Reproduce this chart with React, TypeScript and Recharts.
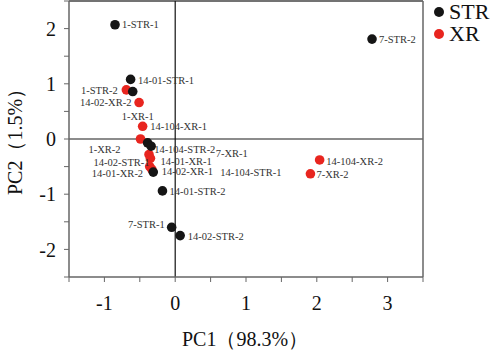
import {
  Label,
  ReferenceLine,
  Scatter,
  ScatterChart,
  XAxis,
  YAxis,
} from "recharts";

const strNames = [
  "1-STR-1", "7-STR-2", "14-01-STR-1", "1-STR-2", "14-02-STR-1",
  "14-104-STR-2", "14-104-STR-1", "14-01-STR-2", "7-STR-1", "14-02-STR-2",
];
const strPC1 = [-0.85, 2.78, -0.63, -0.6, -0.39, -0.34, -0.31, -0.18, -0.05, 0.07];
const strPC2 = [2.07, 1.81, 1.08, 0.86, -0.07, -0.13, -0.6, -0.94, -1.6, -1.75];

const xrNames = [
  "1-XR-1", "14-02-XR-2", "14-104-XR-1", "1-XR-2", "7-XR-1",
  "14-01-XR-1", "14-02-XR-1", "14-01-XR-2", "14-104-XR-2", "7-XR-2",
];
const xrPC1 = [-0.69, -0.51, -0.46, -0.49, -0.37, -0.35, -0.36, -0.33, 2.04, 1.91];
const xrPC2 = [0.89, 0.66, 0.23, 0.0, -0.28, -0.35, -0.5, -0.55, -0.38, -0.63];

const xTicks = [-1.5, -1, -0.5, 0, 0.5, 1, 1.5, 2, 2.5, 3, 3.5];
const yTicks = [-2.5, -2, -1.5, -1, -0.5, 0, 0.5, 1, 1.5, 2, 2.5];

const strData = strNames.map((name, i) => ({ name, x: strPC1[i], y: strPC2[i] }));
const xrData = xrNames.map((name, i) => ({ name, x: xrPC1[i], y: xrPC2[i] }));

// where each point's name sits relative to its marker (px)
const labelOffsets: Record<string, [number, number, "start" | "end"]> = {
  "1-STR-1": [7, 0, "start"],
  "7-STR-2": [7, 0, "start"],
  "14-01-STR-1": [7.5, 1, "start"],
  "1-STR-2": [-15, -1, "end"],
  "14-02-STR-1": [2, 19, "end"],
  "14-104-STR-2": [3, 3, "start"],
  "14-104-STR-1": [67, 0.5, "start"],
  "14-01-STR-2": [7, 0.7, "start"],
  "7-STR-1": [-7, -3, "end"],
  "14-02-STR-2": [7.5, 0.7, "start"],
  "1-XR-1": [-4.6, 26, "start"],
  "14-02-XR-2": [-7.7, -0.7, "end"],
  "14-104-XR-1": [7.7, 0.5, "start"],
  "1-XR-2": [-20, 10.7, "end"],
  "7-XR-1": [66.7, -1.6, "start"],
  "14-01-XR-1": [10, 3.4, "start"],
  "14-02-XR-1": [12, 4.6, "start"],
  "14-01-XR-2": [-8.7, 4, "end"],
  "14-104-XR-2": [6.7, 1, "start"],
  "7-XR-2": [6, 1, "start"],
};

const SERIF = "'Liberation Serif'";
const BLACK = "#151515";
const RED = "#e8251f";

function makeShape(color: string) {
  return (props: any) => {
    const { cx, cy, payload } = props;
    const off = labelOffsets[payload.name] ?? [7, 0, "start"];
    return (
      <g>
        <circle cx={cx} cy={cy} r={4.8} fill={color} />
        <text
          x={cx + off[0]}
          y={cy + off[1]}
          dy="0.35em"
          textAnchor={off[2]}
          style={{ fontFamily: SERIF }}
          fontSize={10.5}
          fill="#333"
        >
          {payload.name}
        </text>
      </g>
    );
  };
}

const fmt = (v: number) => (Number.isInteger(v) ? String(v) : "");

function LegendBox() {
  return (
    <div
      style={{
        position: "absolute",
        left: 434,
        top: 1,
        fontFamily: SERIF,
        fontSize: 22,
        lineHeight: "22px",
        color: "#111",
      }}
    >
      <div style={{ display: "flex", alignItems: "center" }}>
        <span style={{ width: 10, height: 10, borderRadius: 5, background: BLACK, marginRight: 5 }} />
        STR
      </div>
      <div style={{ display: "flex", alignItems: "center" }}>
        <span style={{ width: 10, height: 10, borderRadius: 5, background: RED, marginRight: 5 }} />
        XR
      </div>
    </div>
  );
}

export default function App() {
  const tickStyle = { fontSize: 20, fill: "#111", style: { fontFamily: SERIF } };
  return (
    <div style={{ position: "absolute", left: 0, top: 0, width: 490, height: 353, background: "#fff", fontFamily: SERIF }}>
      <ScatterChart width={490} height={353} margin={{ top: 1, right: 67, bottom: 0, left: 0 }}>
        <XAxis
          type="number"
          dataKey="x"
          domain={[-1.5, 3.5]}
          ticks={xTicks}
          tickFormatter={fmt}
          allowDataOverflow
          height={76}
          tick={tickStyle}
          tickSize={5}
          tickMargin={14}
          axisLine={{ stroke: "#666", strokeWidth: 1.5 }}
          tickLine={{ stroke: "#666" }}
        >
          <Label
            content={() => (
              <text x={245} y={346} textAnchor="middle" style={{ fontFamily: SERIF }} fontSize={20} fill="#111">
                PC1（98.3%）
              </text>
            )}
          />
        </XAxis>
        <YAxis
          type="number"
          dataKey="y"
          domain={[-2.5, 2.5]}
          ticks={yTicks}
          tickFormatter={fmt}
          allowDataOverflow
          width={69}
          tick={tickStyle}
          tickSize={5}
          tickMargin={8}
          axisLine={{ stroke: "#666", strokeWidth: 1.5 }}
          tickLine={{ stroke: "#666" }}
        >
          <Label
            content={() => (
              <text
                x={15}
                y={137}
                transform="rotate(-90 15 137)"
                textAnchor="middle"
                dominantBaseline="central"
                style={{ fontFamily: SERIF }}
                fontSize={20}
                fill="#111"
              >
                PC2（1.5%）
              </text>
            )}
          />
        </YAxis>
        <ReferenceLine y={2.5} stroke="#444" strokeWidth={1.5} ifOverflow="visible" />
        <ReferenceLine x={3.5} stroke="#666" strokeWidth={1.5} ifOverflow="visible" />
        <ReferenceLine y={0} stroke="#666" strokeWidth={1.6} />
        <ReferenceLine x={0} stroke="#111" strokeWidth={1.2} />
        <Scatter name="XR" data={xrData} fill={RED} shape={makeShape(RED)} isAnimationActive={false} />
        <Scatter name="STR" data={strData} fill={BLACK} shape={makeShape(BLACK)} isAnimationActive={false} />
      </ScatterChart>
      <LegendBox />
    </div>
  );
}
